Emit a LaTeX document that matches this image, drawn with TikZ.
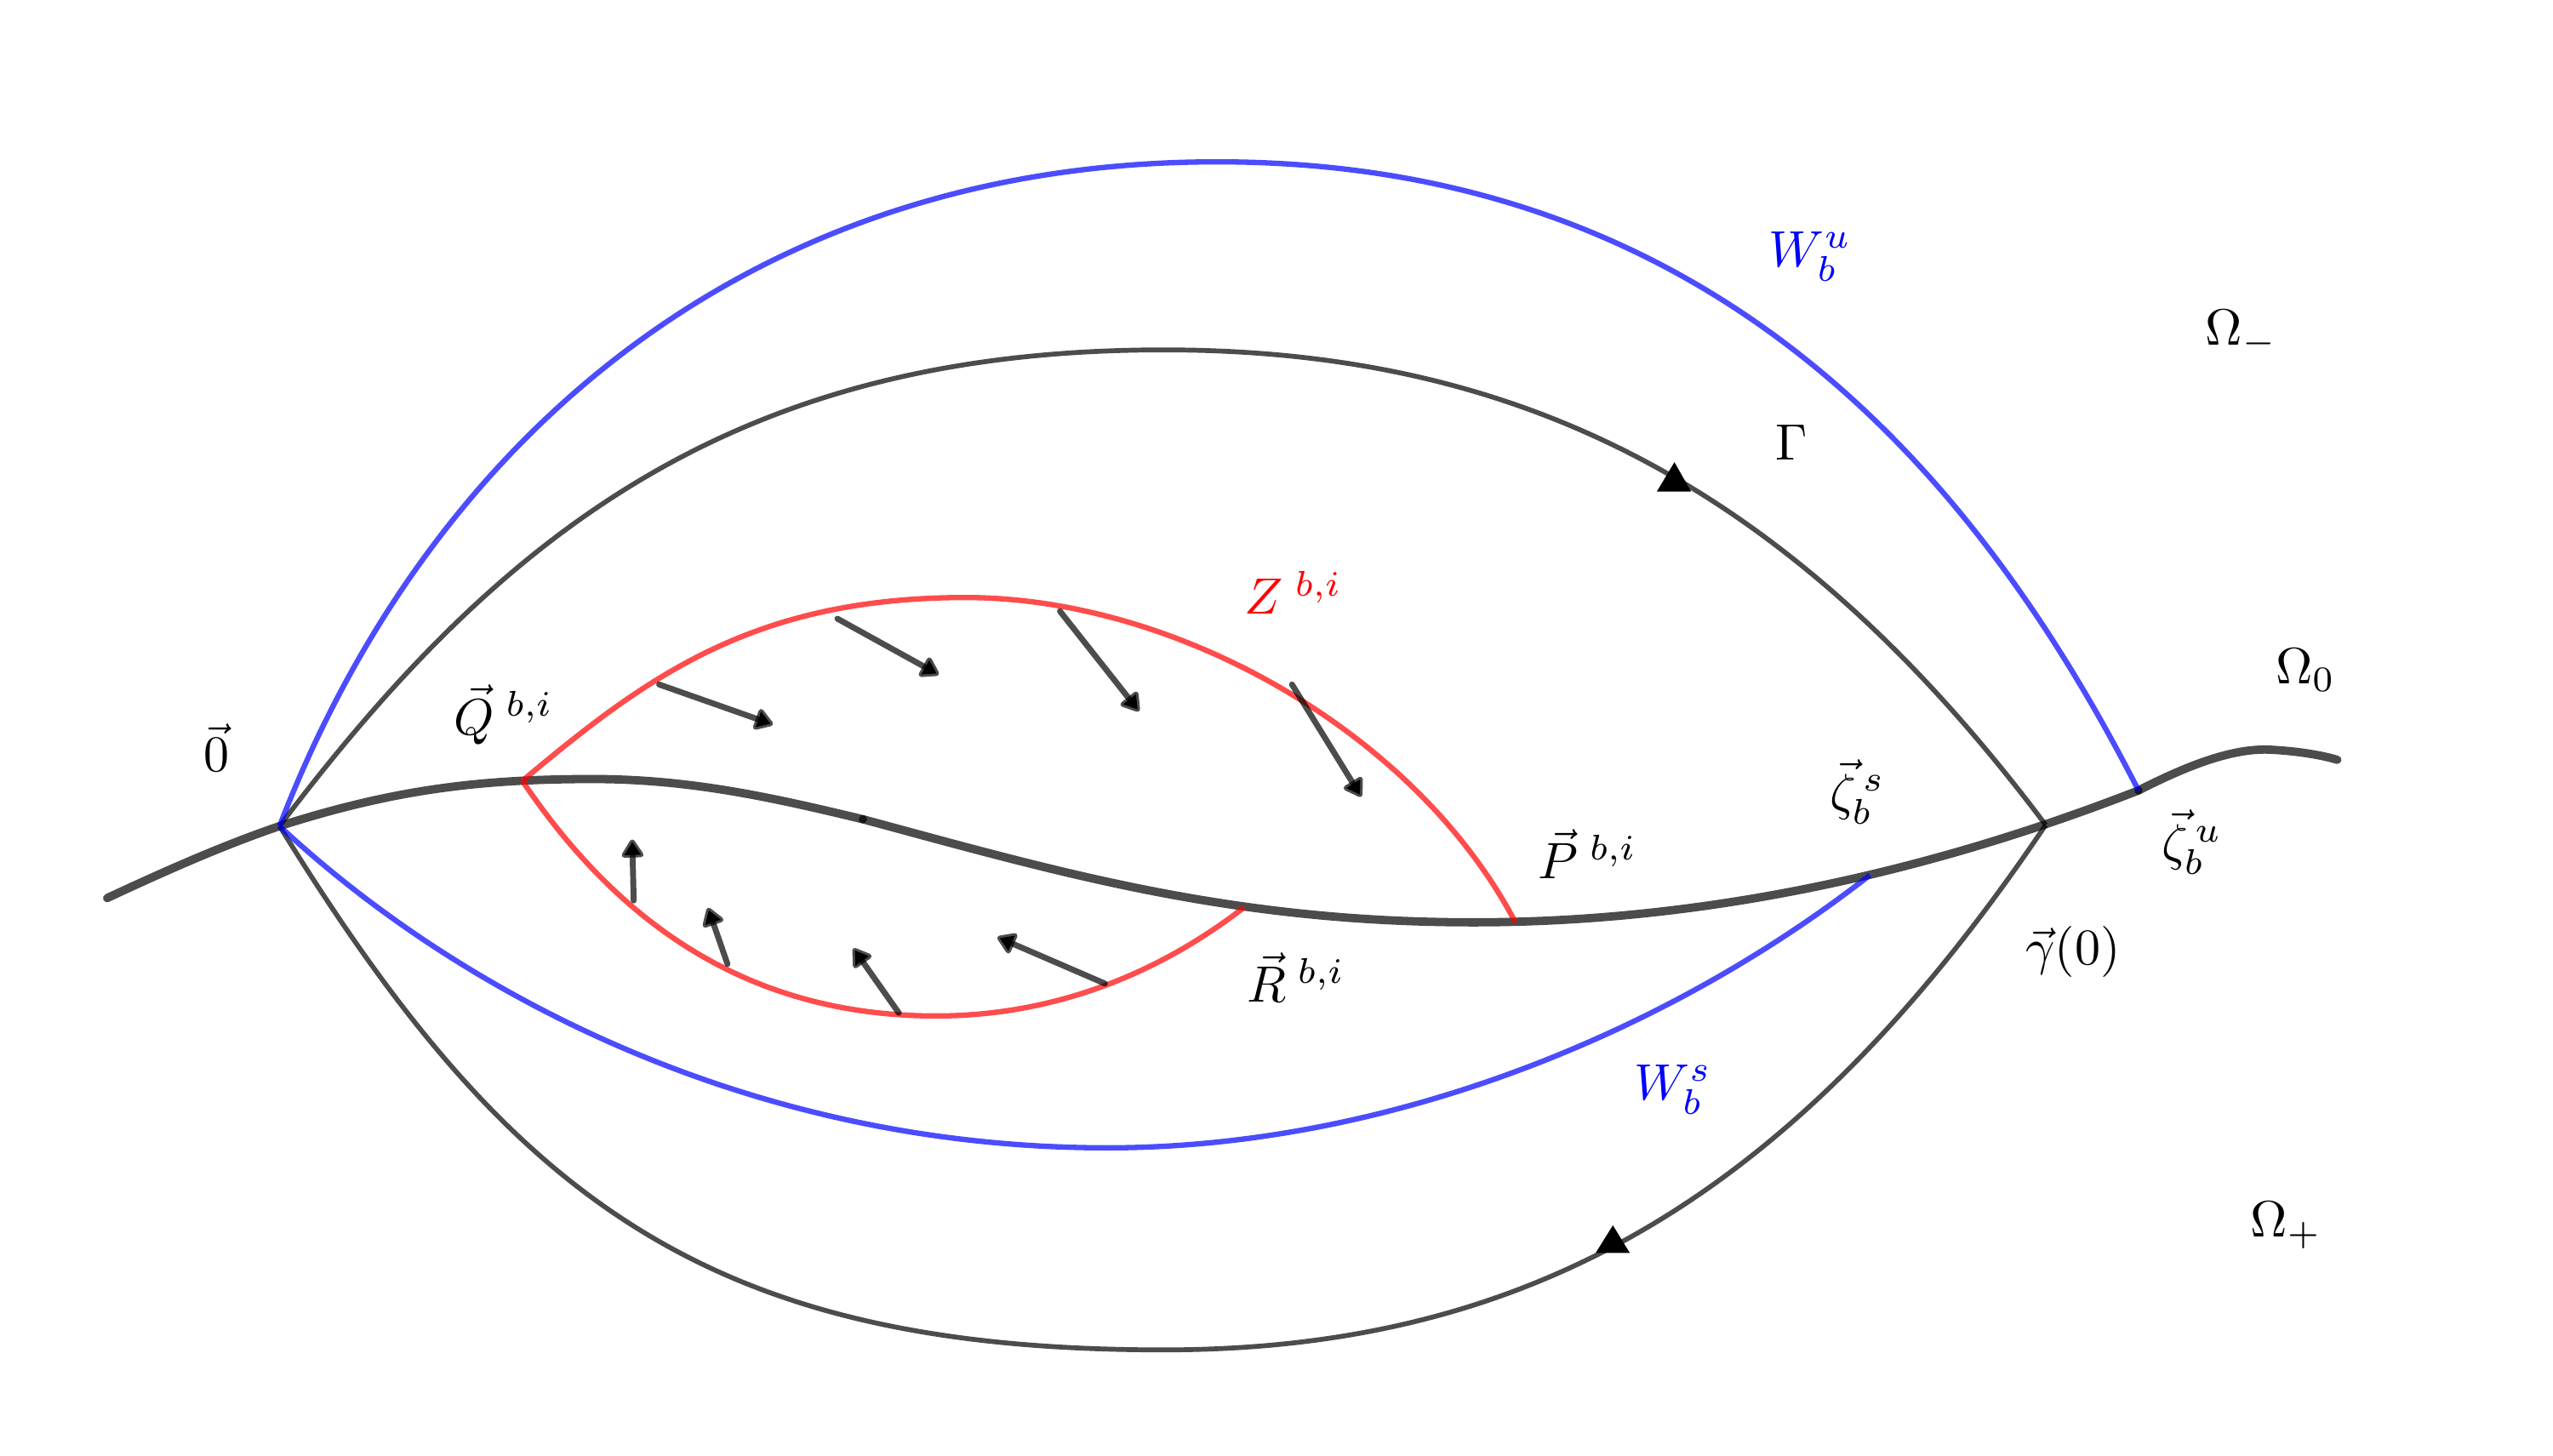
\documentclass[tikz,border=0pt]{standalone}
\usetikzlibrary{arrows.meta}
\begin{document}
\begin{tikzpicture}[x=0.0112cm,y=-0.0112cm,
  base/.style={draw=black,draw opacity=0.7,line width=1.63pt,line cap=round},
  gam/.style={draw=black,draw opacity=0.7,line width=0.95pt},
  wman/.style={draw=blue,draw opacity=0.7,line width=1.05pt},
  zset/.style={draw=red,draw opacity=0.7,line width=1.05pt},
  flow/.style={draw=black,draw opacity=0.7,line width=1.15pt,line cap=round,
    -{Triangle[length=4pt,width=4.8pt,round]}},
  lab/.style={inner sep=0pt},
  tri/.style={fill=black}]
\useasboundingbox (0,0) rectangle (1568,894);

% key points
\coordinate (S) at (65.8,551.6);
\coordinate (O) at (171.7,507.4);
\coordinate (G0) at (1256.4,506.7);
\coordinate (Q) at (320.8,479.6);
\coordinate (P) at (930.6,566.3);
\coordinate (R) at (764.1,557.3);
\coordinate (zs) at (1148.4,537.5);
\coordinate (zu) at (1313.4,485.5);
\coordinate (K) at (530,503.2);
\coordinate (Pk) at (364.3,478.5);
\coordinate (M) at (905,566.5);
\coordinate (E) at (1435.5,466.7);
\coordinate (GT) at (714.6,214.9);
\coordinate (GB) at (714.6,829.1);
\coordinate (WT) at (747.6,99.4);
\coordinate (WB) at (680,705);
\coordinate (ZT) at (593,367);
\coordinate (ZB) at (575,624);

% base curve (three pieces)
\draw[base] (S) .. controls (101,535.2) and (136.7,519.3) .. (O)
                .. controls (241.7,485) and (294.3,478.5) .. (Pk)
                .. controls (424.3,478.5) and (475,490) .. (K);
\draw[base] (K) .. controls (650,535.6) and (755,566.5) .. (M)
                .. controls (1055,566.5) and (1193.4,532.3) .. (zu);
\draw[base] (zu) .. controls (1340,472) and (1370,459) .. (1395,460.5)
                 .. controls (1410,461.3) and (1425,463.5) .. (E);

% Gamma upper and lower
\draw[gam] (O) .. controls (310.3,323.7) and (454.6,214.9) .. (GT)
               .. controls (934.6,214.9) and (1100.4,298.8) .. (G0);
\draw[gam] (O) .. controls (313.5,737.2) and (434.6,829.1) .. (GB)
               .. controls (944.6,829.1) and (1105.5,730.6) .. (G0);

% W^u and W^s
\draw[wman] (O) .. controls (257.6,283.3) and (447.6,99.4) .. (WT)
                .. controls (1047.6,99.4) and (1211.2,285) .. (zu);
\draw[wman] (O) .. controls (281.2,609.4) and (460,705) .. (WB)
                .. controls (850,705) and (1022.3,636.1) .. (zs);

% Z^{b,i}
\draw[zset] (Q) .. controls (397.4,415.3) and (463,367) .. (ZT)
                .. controls (723,367) and (869.6,450.3) .. (P);
\draw[zset] (Q) .. controls (376.8,562.5) and (455,624) .. (ZB)
                .. controls (635,624) and (701.1,606) .. (R);

% flow arrows
\draw[flow] (404.8,420.4) -- (474.7,445);
\draw[flow] (514.3,380) -- (576.6,414.4);
\draw[flow] (651,375.4) -- (699.6,436.9);
\draw[flow] (793.5,420.4) -- (836.1,489.4);
\draw[flow] (389.2,553.1) -- (388.3,515.6);
\draw[flow] (446.8,592.1) -- (434.8,557.6);
\draw[flow] (552,622.1) -- (524.1,582.5);
\draw[flow] (678.6,604.1) -- (612.6,575.6);

% orientation marks
\fill[tri] (1028.4,283.9) -- (1017.6,301.9) -- (1038.6,301.9) -- cycle;
\fill[tri] (990.6,752.6) -- (980,769.6) -- (1001,769.6) -- cycle;

% labels
\node[lab] (l0) at (133,459) {$\vec{0}$};
\node[lab] (lQ) at (309.3,439) {$\vec{Q}^{\;b,i}$};
\node[lab,red] (lZ) at (794.5,364) {$Z^{\;b,i}$};
\node[lab,blue] (lWu) at (1111.8,157.6) {$W_b^u$};
\node[lab] (lOm) at (1376.5,205) {$\Omega_-$};
\node[lab] (lG) at (1100.4,271.9) {$\Gamma$};
\node[lab] (lO0) at (1416,411.4) {$\Omega_0$};
\node[lab] (lzs) at (1140.8,486.3) {$\vec{\zeta}_b^{\,s}$};
\node[lab] (lP) at (975,524.6) {$\vec{P}^{\;b,i}$};
\node[lab] (lzu) at (1346.3,517.4) {$\vec{\zeta}_b^{\,u}$};
\node[lab] (lg) at (1273.2,584.6) {$\vec{\gamma}(0)$};
\node[lab] (lR) at (795.9,600.4) {$\vec{R}^{\;b,i}$};
\node[lab,blue] (lWs) at (1027.5,669.4) {$W_b^s$};
\node[lab] (lOp) at (1404,752.6) {$\Omega_+$};
\end{tikzpicture}
\end{document}
